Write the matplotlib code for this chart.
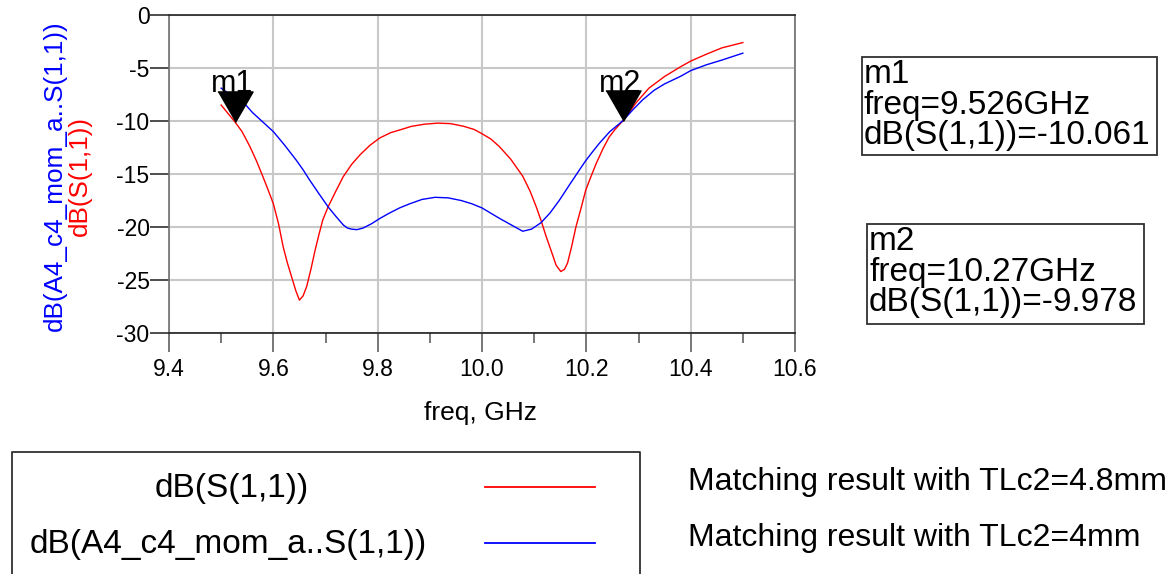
import matplotlib
matplotlib.use("Agg")
import matplotlib.pyplot as plt
from matplotlib.patches import Rectangle
from matplotlib.lines import Line2D
from matplotlib.ticker import MultipleLocator, FormatStrFormatter

plt.rcParams['font.family'] = ['Liberation Sans', 'DejaVu Sans']
plt.rcParams['axes.unicode_minus'] = False

# dB(S(1,1)), TLc2 = 4.8mm (red)
freq_red = [9.500, 9.526, 9.540, 9.555, 9.568, 9.580, 9.590, 9.600, 9.610, 9.619,
            9.627, 9.635, 9.643, 9.650, 9.657, 9.664, 9.672, 9.680, 9.688, 9.695,
            9.705, 9.720, 9.734, 9.750, 9.766, 9.785, 9.804, 9.825, 9.842, 9.865,
            9.890, 9.915, 9.940, 9.965, 9.985, 10.000, 10.017, 10.033, 10.055, 10.078,
            10.092, 10.104, 10.114, 10.123, 10.133, 10.142, 10.151, 10.158, 10.164, 10.172,
            10.180, 10.190, 10.199, 10.210, 10.219, 10.232, 10.244, 10.255, 10.270, 10.282,
            10.295, 10.320, 10.350, 10.380, 10.400, 10.430, 10.460, 10.500]
db_red = [-8.5, -10.06, -11.0, -12.4, -13.8, -15.25, -16.5, -17.8, -19.7, -21.9,
          -23.4, -24.7, -26.0, -26.9, -26.5, -25.6, -24.0, -22.2, -20.6, -19.3,
          -18.1, -16.6, -15.25, -14.1, -13.2, -12.3, -11.6, -11.1, -10.85, -10.5,
          -10.3, -10.2, -10.25, -10.5, -10.8, -11.2, -11.7, -12.4, -13.6, -15.2,
          -16.6, -18.1, -19.5, -20.9, -22.3, -23.6, -24.2, -24.0, -23.4, -21.8,
          -20.0, -18.2, -16.5, -15.1, -14.0, -12.6, -11.5, -10.8, -9.978, -9.2,
          -8.3, -6.9, -5.8, -4.9, -4.35, -3.7, -3.1, -2.6]

# dB(A4_c4_mom_a..S(1,1)), TLc2 = 4mm (blue)
freq_blue = [9.500, 9.520, 9.542, 9.560, 9.580, 9.600, 9.622, 9.644, 9.657, 9.670,
             9.688, 9.705, 9.720, 9.734, 9.742, 9.750, 9.760, 9.772, 9.788, 9.804,
             9.822, 9.842, 9.862, 9.885, 9.910, 9.935, 9.960, 9.980, 10.000, 10.017,
             10.034, 10.056, 10.078, 10.095, 10.113, 10.130, 10.148, 10.168, 10.187, 10.198,
             10.212, 10.225, 10.245, 10.270, 10.290, 10.308, 10.330, 10.350, 10.380, 10.400,
             10.430, 10.460, 10.500]
db_blue = [-6.9, -7.6, -8.2, -9.2, -10.1, -11.0, -12.3, -13.7, -14.6, -15.6,
           -16.9, -18.1, -19.0, -19.8, -20.1, -20.2, -20.25, -20.1, -19.7, -19.2,
           -18.7, -18.2, -17.8, -17.4, -17.2, -17.25, -17.5, -17.8, -18.2, -18.7,
           -19.2, -19.8, -20.4, -20.2, -19.6, -18.7, -17.5, -16.0, -14.6, -13.8,
           -12.9, -12.1, -11.0, -9.98, -8.9, -8.0, -7.1, -6.5, -5.8, -5.25,
           -4.7, -4.25, -3.6]

# markers
marker_names = ['m1', 'm2']
marker_freq = [9.526, 10.27]
marker_db = [-10.061, -9.978]
marker_freq_txt = ['9.526GHz', '10.27GHz']
marker_db_txt = ['-10.061', '-9.978']

legend_labels = ['dB(S(1,1))', 'dB(A4_c4_mom_a..S(1,1))']
legend_notes = ['Matching result with TLc2=4.8mm', 'Matching result with TLc2=4mm']

W, H = 1175, 574


def fx(px):
    return px / W


def fy(py):
    return 1 - py / H


fig = plt.figure(figsize=(W / 100, H / 100), dpi=100)
ax = fig.add_axes([fx(169), fy(333), fx(795) - fx(169), fy(15) - fy(333)])

ax.plot(freq_red, db_red, color='#ff0000', lw=1.0, zorder=3)
ax.plot(freq_blue, db_blue, color='#0000ff', lw=1.0, zorder=3)

# marker triangles with tip on the data point
tri = [(-1.15, 2.0), (1.15, 2.0), (0.0, 0.0)]
for name, f, d in zip(marker_names, marker_freq, marker_db):
    ax.plot([f], [d], marker=tri, markersize=44, color='black', ls='none', zorder=5)
    ax.annotate(name, (f, d), xytext=(-2, 21), textcoords='offset points',
                ha='center', va='baseline', fontsize=22)

ax.set_xlim(9.4, 10.6)
ax.set_ylim(-30, 0)
ax.xaxis.set_major_locator(MultipleLocator(0.2))
ax.xaxis.set_minor_locator(MultipleLocator(0.1))
ax.xaxis.set_major_formatter(FormatStrFormatter('%.1f'))
ax.yaxis.set_major_locator(MultipleLocator(5))
ax.grid(True, which='major', color='#c8c8c8', lw=1.5, zorder=0)
ax.tick_params(axis='x', which='major', direction='out', length=14, width=1.2,
               color='#606060', labelsize=16.5, pad=4)
ax.tick_params(axis='x', which='minor', direction='out', length=7, width=1.2,
               color='#606060')
ax.tick_params(axis='y', direction='out', length=14, width=1.2, color='#303030',
               labelsize=16.5, pad=0)
for side, s in ax.spines.items():
    s.set_color('#707070' if side in ('left', 'right') else '#202020')
    s.set_linewidth(1.2)

fig.text(fx(480), fy(413), 'freq, GHz', ha='center', va='center', fontsize=19)

# y label in two colours
fig.text(fx(55), fy(176), legend_labels[1], color='#0000ff', rotation=90,
         ha='center', va='center', fontsize=18.8)
fig.text(fx(80), fy(176), legend_labels[0], color='#ff0000', rotation=90,
         ha='center', va='center', fontsize=18.8)

# marker readout boxes
boxes = [(862, 57, 1157, 155), (867, 224, 1144, 324)]
for (x0, y0, x1, y1), name, ft, dt in zip(boxes, marker_names,
                                          marker_freq_txt, marker_db_txt):
    fig.add_artist(Rectangle((fx(x0), fy(y1)), fx(x1) - fx(x0), fy(y0) - fy(y1),
                             transform=fig.transFigure, fill=False,
                             ec='#303030', lw=1.3))
    txt = '%s\nfreq=%s\ndB(S(1,1))=%s' % (name, ft, dt)
    fig.text(fx(x0 + 2), fy(y0 + 2), txt, ha='left', va='top', fontsize=24,
             linespacing=0.98)

# legend box at the bottom
fig.add_artist(Line2D([fx(12), fx(12), fx(640), fx(640)],
                      [fy(574), fy(452), fy(452), fy(574)],
                      transform=fig.transFigure, color='#303030', lw=1.3))
leg_y = [487, 543]
leg_x = [232, 228]
leg_colors = ['#ff0000', '#0000ff']
for lab, note, yy, xx, c in zip(legend_labels, legend_notes, leg_y, leg_x, leg_colors):
    fig.text(fx(xx), fy(yy + 2), lab, ha='center', va='center', fontsize=24)
    fig.add_artist(Line2D([fx(485), fx(595)], [fy(yy), fy(yy)],
                          transform=fig.transFigure, color=c, lw=1.3))
    fig.text(fx(688), fy(yy - 5), note, ha='left', va='center', fontsize=23)

fig.savefig('out.png', dpi=100)
